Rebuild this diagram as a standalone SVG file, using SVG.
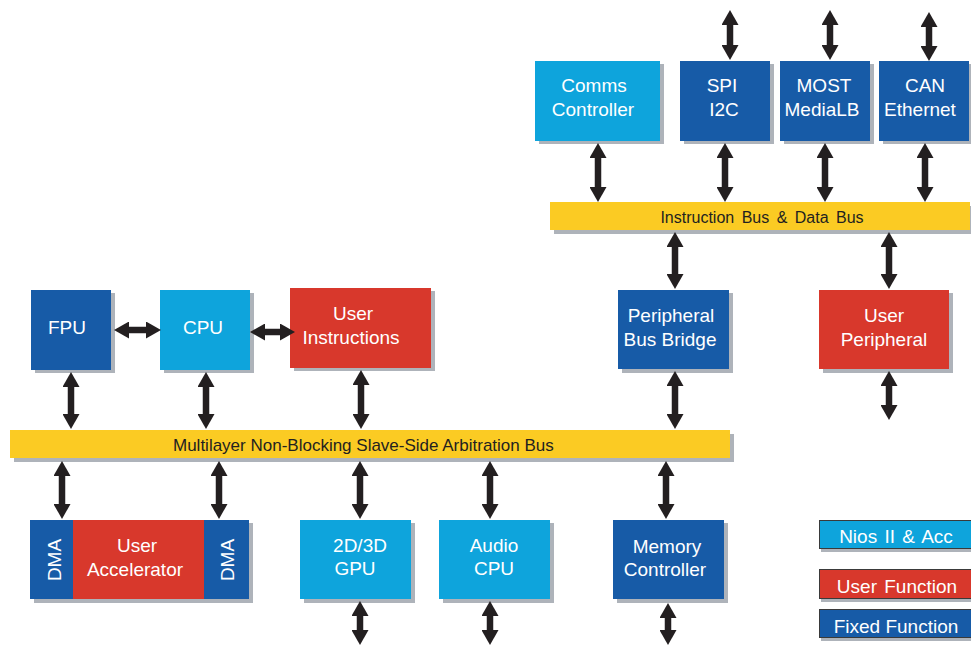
<svg xmlns="http://www.w3.org/2000/svg" width="971" height="645" viewBox="0 0 971 645">
<style>
.sh{fill:#AEB3BA}
.lb{fill:#0EA4DC}
.db{fill:#175BA7}
.rd{fill:#D8382C}
.bus{fill:#FBCB23}
.t{font-family:"Liberation Sans",Arial,sans-serif;font-size:19px;fill:#FFFFFF;text-anchor:middle}
.bt{font-family:"Liberation Sans",Arial,sans-serif;fill:#231F20}
.ar{stroke:#231F20;stroke-width:6.5;fill:none;marker-start:url(#ah);marker-end:url(#ah)}
.lg{stroke:#3A3A3A;stroke-width:1}
</style>
<defs>
<marker id="ah" viewBox="0 0 15 17" markerWidth="15" markerHeight="17" markerUnits="userSpaceOnUse" refX="5" refY="8.5" orient="auto-start-reverse">
<path d="M0,0 L15,8.5 L0,17 z" fill="#231F20"/>
</marker>
</defs>
<rect width="971" height="645" fill="#FFFFFF"/>

<g id="multilayer-bus">
<rect class="sh" x="14" y="434" width="720" height="28"/>
<rect class="bus" x="10" y="430" width="720" height="28"/>
<text class="bt" x="173" y="451" font-size="17">Multilayer Non-Blocking Slave-Side Arbitration Bus</text>
</g>

<g id="instruction-bus">
<rect class="sh" x="554" y="206" width="417" height="28"/>
<rect class="bus" x="550" y="202" width="420" height="28"/>
<text class="bt" x="762" y="223" font-size="16" text-anchor="middle" word-spacing="3">Instruction Bus &amp; Data Bus</text>
</g>

<g id="fpu">
<rect class="sh" x="35" y="293" width="80" height="80"/>
<rect class="db" x="31" y="290" width="80" height="80"/>
<text class="t" x="67" y="334">FPU</text>
</g>

<g id="cpu">
<rect class="sh" x="164" y="293" width="90" height="80"/>
<rect class="lb" x="160" y="290" width="90" height="80"/>
<text class="t" x="203" y="334">CPU</text>
</g>

<g id="user-instructions">
<rect class="sh" x="294" y="291" width="141" height="80"/>
<rect class="rd" x="290" y="288" width="141" height="80"/>
<text class="t" x="353" y="320">User</text>
<text class="t" x="351" y="344">Instructions</text>
</g>

<g id="peripheral-bus-bridge">
<rect class="sh" x="622" y="293" width="111" height="80"/>
<rect class="db" x="618" y="290" width="111" height="79"/>
<text class="t" x="671" y="322">Peripheral</text>
<text class="t" x="670" y="346">Bus Bridge</text>
</g>

<g id="user-peripheral">
<rect class="sh" x="823" y="293" width="130" height="80"/>
<rect class="rd" x="819" y="290" width="130" height="79"/>
<text class="t" x="884" y="322">User</text>
<text class="t" x="884" y="346">Peripheral</text>
</g>

<g id="comms-controller">
<rect class="sh" x="539" y="64" width="125" height="80"/>
<rect class="lb" x="535" y="61" width="125" height="80"/>
<text class="t" x="594" y="92">Comms</text>
<text class="t" x="593" y="116">Controller</text>
</g>

<g id="spi-i2c">
<rect class="sh" x="684" y="64" width="90" height="80"/>
<rect class="db" x="680" y="61" width="90" height="80"/>
<text class="t" x="722" y="92">SPI</text>
<text class="t" x="724" y="116">I2C</text>
</g>

<g id="most-medialb">
<rect class="sh" x="784" y="64" width="90" height="80"/>
<rect class="db" x="780" y="61" width="90" height="80"/>
<text class="t" x="824" y="92">MOST</text>
<text class="t" x="822" y="116">MediaLB</text>
</g>

<g id="can-ethernet">
<rect class="sh" x="883" y="64" width="88" height="80"/>
<rect class="db" x="879" y="61" width="90" height="80"/>
<text class="t" x="925" y="92">CAN</text>
<text class="t" x="920" y="116">Ethernet</text>
</g>

<g id="user-accelerator">
<rect class="sh" x="34" y="523" width="219" height="80"/>
<rect class="rd" x="73" y="520" width="131" height="79"/>
<text class="t" x="137" y="552">User</text>
<text class="t" x="135" y="576">Accelerator</text>
</g>

<g id="dma-left">
<rect class="db" x="30" y="520" width="43" height="79"/>
<text class="t" transform="translate(61,560) rotate(-90)" x="0" y="0" font-size="20">DMA</text>
</g>

<g id="dma-right">
<rect class="db" x="204" y="520" width="45" height="79"/>
<text class="t" transform="translate(234,560) rotate(-90)" x="0" y="0" font-size="20">DMA</text>
</g>

<g id="gpu">
<rect class="sh" x="304" y="523" width="111" height="80"/>
<rect class="lb" x="300" y="520" width="111" height="79"/>
<text class="t" x="360" y="552">2D/3D</text>
<text class="t" x="355" y="575">GPU</text>
</g>

<g id="audio-cpu">
<rect class="sh" x="443" y="523" width="111" height="80"/>
<rect class="lb" x="439" y="520" width="111" height="79"/>
<text class="t" x="494" y="552">Audio</text>
<text class="t" x="494" y="575">CPU</text>
</g>

<g id="memory-controller">
<rect class="sh" x="617" y="523" width="111" height="80"/>
<rect class="db" x="613" y="520" width="111" height="79"/>
<text class="t" x="667" y="553">Memory</text>
<text class="t" x="665" y="576">Controller</text>
</g>

<g id="legend">
<rect class="sh" x="821" y="523" width="150" height="29"/>
<rect class="lb lg" x="819.5" y="520.5" width="152" height="28"/>
<text class="t" x="896" y="543" word-spacing="2">Nios II &amp; Acc</text>
<rect class="sh" x="821" y="572" width="150" height="30"/>
<rect class="rd lg" x="819.5" y="569.5" width="152" height="29"/>
<text class="t" x="897" y="593" word-spacing="2">User Function</text>
<rect class="sh" x="821" y="612" width="150" height="29"/>
<rect class="db lg" x="819.5" y="609.5" width="152" height="28"/>
<text class="t" x="896" y="633">Fixed Function</text>
</g>

<g id="connectors">
<line class="ar" x1="71" y1="382" x2="71" y2="419"/>
<line class="ar" x1="206" y1="382" x2="206" y2="419"/>
<line class="ar" x1="361" y1="380" x2="361" y2="419"/>
<line class="ar" x1="675" y1="381" x2="675" y2="419"/>
<line class="ar" x1="62" y1="471" x2="62" y2="509"/>
<line class="ar" x1="219" y1="471" x2="219" y2="509"/>
<line class="ar" x1="360" y1="471" x2="360" y2="509"/>
<line class="ar" x1="490" y1="471" x2="490" y2="509"/>
<line class="ar" x1="666" y1="471" x2="666" y2="509"/>
<line class="ar" x1="360" y1="611" x2="360" y2="635"/>
<line class="ar" x1="490" y1="611" x2="490" y2="635"/>
<line class="ar" x1="668" y1="613" x2="668" y2="635"/>
<line class="ar" x1="598" y1="153" x2="598" y2="192"/>
<line class="ar" x1="725" y1="153" x2="725" y2="192"/>
<line class="ar" x1="825" y1="153" x2="825" y2="192"/>
<line class="ar" x1="925" y1="153" x2="925" y2="192"/>
<line class="ar" x1="730" y1="20" x2="730" y2="50"/>
<line class="ar" x1="830" y1="20" x2="830" y2="50"/>
<line class="ar" x1="929" y1="22" x2="929" y2="51"/>
<line class="ar" x1="675" y1="242" x2="675" y2="279"/>
<line class="ar" x1="889" y1="242" x2="889" y2="279"/>
<line class="ar" x1="889" y1="381" x2="889" y2="410"/>
<line class="ar" x1="124" y1="330" x2="151" y2="330"/>
<line class="ar" x1="260" y1="332" x2="285" y2="332"/>
</g>
</svg>
